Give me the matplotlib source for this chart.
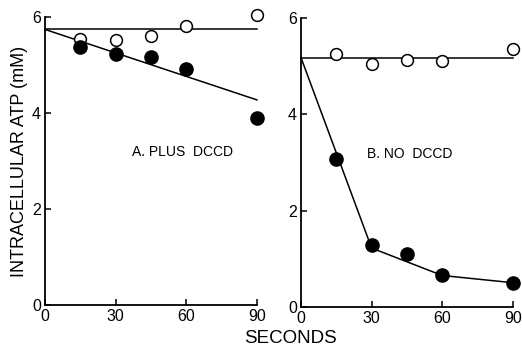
import matplotlib.pyplot as plt

# tiempos (segundos)
tiempo = [15, 30, 45, 60, 90]

# panel A: con DCCD
a_abierto = [5.55, 5.53, 5.61, 5.82, 6.05]
a_lleno = [5.39, 5.23, 5.18, 4.92, 3.91]
a_linea_x = [0, 90]
a_linea_abierto = [5.75, 5.75]
a_linea_lleno = [5.75, 4.28]

# panel B: sin DCCD
b_abierto = [5.25, 5.04, 5.13, 5.10, 5.36]
b_lleno = [3.08, 1.28, 1.10, 0.66, 0.49]
b_linea_x = [0, 15, 30, 60, 90]
b_linea_abierto = [5.18, 5.18, 5.18, 5.18, 5.18]
b_linea_lleno = [5.18, 3.2, 1.22, 0.65, 0.50]

xticks = [0, 30, 60, 90]
yticks = [0, 2, 4, 6]

plt.rcParams['font.family'] = ['Liberation Sans', 'DejaVu Sans']

fig = plt.figure(figsize=(5.22, 3.49), dpi=100)
ax1 = fig.add_axes([0.0862, 0.126, 0.406, 0.824])
ax2 = fig.add_axes([0.5766, 0.121, 0.406, 0.827])

def panel(ax, lx, labierto, llleno, abierto, lleno, texto, tx, ty):
    ax.plot(lx, labierto, color='black', lw=1.1, clip_on=False)
    ax.plot(lx, llleno, color='black', lw=1.1, clip_on=False)
    ax.plot(tiempo, abierto, 'o', ms=8.5, mfc='white', mec='black', mew=1.1,
            clip_on=False, zorder=5)
    ax.plot(tiempo, lleno, 'o', ms=9.5, mfc='black', mec='black',
            clip_on=False, zorder=5)
    ax.set_xlim(0, 90)
    ax.set_ylim(0, 6)
    ax.set_xticks(xticks)
    ax.set_yticks(yticks)
    ax.spines['top'].set_visible(False)
    ax.spines['right'].set_visible(False)
    ax.spines['left'].set_linewidth(1.3)
    ax.spines['bottom'].set_linewidth(1.3)
    ax.tick_params(direction='in', length=4, width=1.1, labelsize=11.5, pad=3)
    ax.text(tx, ty, texto, fontsize=10, ha='center', va='center')

panel(ax1, a_linea_x, a_linea_abierto, a_linea_lleno, a_abierto, a_lleno,
      'A. PLUS  DCCD', 58.6, 3.19)
panel(ax2, b_linea_x, b_linea_abierto, b_linea_lleno, b_abierto, b_lleno,
      'B. NO  DCCD', 46.3, 3.18)

ax1.set_ylabel('INTRACELLULAR ATP (mM)', fontsize=13, labelpad=3)
fig.text(0.556, 0.03, 'SECONDS', fontsize=13.5, ha='center', va='center')

plt.savefig('out.png', dpi=100)
